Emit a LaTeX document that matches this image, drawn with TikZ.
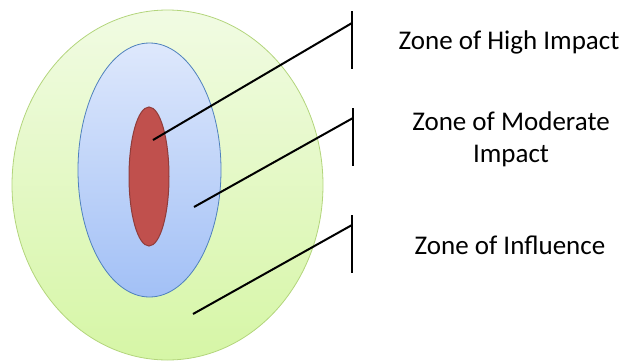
\documentclass[tikz,border=0pt]{standalone}
\usepackage{fontspec}
\setmainfont{Carlito}
\usepackage{tikz}
\usetikzlibrary{shapes.geometric, positioning}

\definecolor{zonegreen}{HTML}{B3D57C}
\definecolor{greentop}{HTML}{F1FBE3}
\definecolor{greenbot}{HTML}{D6F6A6}
\definecolor{zoneblue}{HTML}{4F81BD}
\definecolor{bluetop}{HTML}{DEE8FC}
\definecolor{bluebot}{HTML}{A2C0F6}
\definecolor{zonered}{HTML}{C0504D}

\begin{document}
\begin{tikzpicture}[x=1pt, y=-1pt,
    zone/.style = {draw, ellipse, inner sep=0pt, line width=0.8pt},
    lead/.style = {draw, line width=2pt},
    label/.style = {align=center, font=\fontsize{27}{32}\selectfont}]
    \useasboundingbox (0,0) rectangle (630,362);

    % 区域定义
    \node[zone, draw=zonegreen, top color=greentop, bottom color=greenbot,
          minimum width=311pt, minimum height=350pt] (influence) at (167.5,185) {};
    \node[zone, draw=zoneblue, top color=bluetop, bottom color=bluebot,
          minimum width=143pt, minimum height=254pt] (moderate) at (149.5,170) {};
    \node[zone, draw=zonered!75!black, fill=zonered, line width=1pt,
          minimum width=40pt, minimum height=139pt] (high) at (149,176.5) {};

    % 标注
    \node[label] (t1) at (509,42) {Zone of High Impact};
    \node[label] (t2) at (511,139) {Zone of Moderate\\Impact};
    \node[label] (t3) at (510,245) {Zone of Influence};

    % 引线
    \coordinate (p1) at (153,140);
    \coordinate (p2) at (194,207);
    \coordinate (p3) at (193,314);
    \coordinate (b1) at (352,23);
    \coordinate (b2) at (353,118);
    \coordinate (b3) at (352,225);
    \coordinate (b1top) at (352,11);
    \coordinate (b1bot) at (352,69);
    \coordinate (b2top) at (353,108);
    \coordinate (b2bot) at (353,166);
    \coordinate (b3top) at (352,215);
    \coordinate (b3bot) at (352,273);
    \draw[lead] (p1) -- (b1);
    \draw[lead] (p2) -- (b2);
    \draw[lead] (p3) -- (b3);
    \draw[lead] (b1top) -- (b1bot);
    \draw[lead] (b2top) -- (b2bot);
    \draw[lead] (b3top) -- (b3bot);
\end{tikzpicture}
\end{document}
